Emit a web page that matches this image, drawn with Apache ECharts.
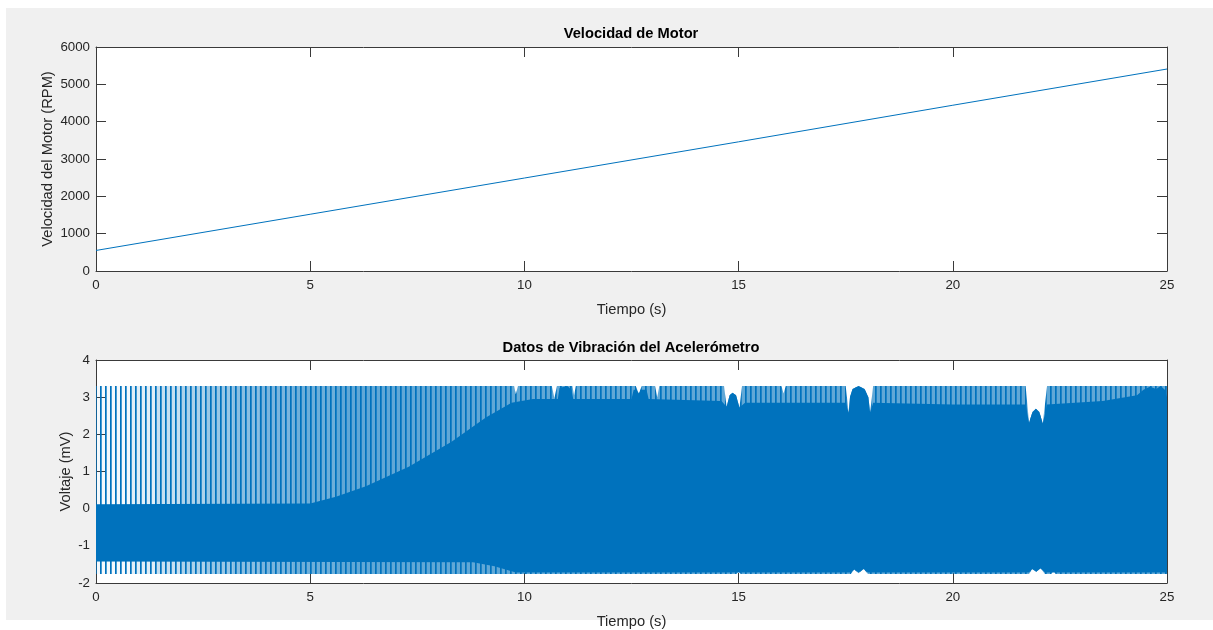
<!DOCTYPE html>
<html>
<head>
<meta charset="utf-8">
<script src="https://cdn.jsdelivr.net/npm/echarts@6/dist/echarts.min.js"></script>
<style>
  html, body { margin: 0; padding: 0; background: #ffffff; }
  #chart { width: 1213px; height: 630px; }
</style>
</head>
<body>
<div id="chart"></div>
<script>
// Motor speed (RPM) over time (s)
const speedTime = [0, 5, 10, 15, 20, 25];
const speedRpm = [550, 1520, 2490, 3460, 4440, 5410];

// Accelerometer vibration (mV): envelope of the oscillation, [t, v] pairs
// Outer swing reached by the individual cycles (upper edge)
const vibMax = [
  [0, 3.3], [9.76, 3.3], [9.8, 3.08], [9.85, 3.3],
  [10.64, 3.3], [10.7, 2.98], [10.76, 3.3],
  [11.12, 3.3], [11.16, 3.05], [11.2, 3.3],
  [12.6, 3.3], [12.67, 3.1], [12.74, 3.3],
  [13.05, 3.3], [13.1, 3.0], [13.15, 3.3],
  [14.66, 3.3], [14.72, 2.74], [14.79, 3.05], [14.86, 3.12], [14.94, 3.05], [15.02, 2.72], [15.08, 3.3],
  [16.0, 3.3], [16.05, 3.1], [16.1, 3.3],
  [17.5, 3.3], [17.57, 2.58], [17.6, 3.0], [17.66, 3.22], [17.8, 3.3], [17.94, 3.22], [18.03, 3.0], [18.07, 2.58], [18.14, 3.3],
  [21.7, 3.3], [21.78, 2.31], [21.86, 2.6], [21.94, 2.69], [22.02, 2.6], [22.1, 2.29], [22.2, 3.3],
  [25, 3.3]
];
// Outer swing (lower edge)
const vibMin = [
  [0, -1.76], [14.95, -1.76], [15.0, -1.7], [15.05, -1.76],
  [17.62, -1.76], [17.7, -1.64], [17.8, -1.74], [17.92, -1.62], [18.02, -1.76],
  [21.78, -1.76], [21.85, -1.62], [21.95, -1.7], [22.05, -1.6], [22.15, -1.76],
  [22.3, -1.76], [22.35, -1.68], [22.4, -1.76], [25, -1.76]
];
// Dense core of the signal (upper edge)
const vibCoreTop = [
  [0, 0.12], [5.0, 0.14], [5.6, 0.32], [6.3, 0.6], [7.3, 1.13], [8.3, 1.8], [9.1, 2.45], [9.7, 2.85], [10.2, 2.95],
  [10.78, 2.95], [10.82, 3.25], [11.0, 3.3], [11.1, 3.2], [11.14, 2.95],
  [12.5, 2.95], [12.55, 3.2], [12.62, 3.2], [12.67, 3.1], [12.72, 3.2], [12.85, 3.2], [12.9, 2.95],
  [14.6, 2.9], [14.72, 2.74], [14.79, 3.05], [14.86, 3.12], [14.94, 3.05], [15.02, 2.72], [15.15, 2.85],
  [17.5, 2.85], [17.57, 2.58], [17.6, 3.0], [17.66, 3.22], [17.8, 3.3], [17.94, 3.22], [18.03, 3.0], [18.07, 2.58], [18.14, 2.85],
  [20, 2.8], [21.7, 2.8], [21.78, 2.31], [21.86, 2.6], [21.94, 2.69], [22.02, 2.6], [22.1, 2.29], [22.2, 2.8],
  [23.5, 2.9], [24.3, 3.05], [24.45, 3.2], [24.6, 3.28], [24.75, 3.22], [24.85, 3.3], [24.95, 3.2], [25, 3.0]
];
// Dense core of the signal (lower edge)
const vibCoreBottom = [
  [0, -1.42], [8.8, -1.44], [9.3, -1.55], [9.8, -1.72],
  [17.62, -1.72], [17.7, -1.64], [17.8, -1.72], [17.92, -1.62], [18.02, -1.72],
  [21.78, -1.72], [21.85, -1.62], [21.95, -1.7], [22.05, -1.6], [22.15, -1.72], [25, -1.72]
];

const BLUE = '#0072BD';
const AXIS = '#3a3a3a';
const TEXT = '#262626';
const FONT = '"Liberation Sans", Arial, Helvetica, sans-serif';

// Shading of the gaps between cycles: [fromTime, toTime, opacity]
// (cycles get denser as the motor speeds up)
const gapShade = [
  [0, 0.8, 0.04], [0.8, 1.4, 0.12], [1.4, 2.0, 0.22], [2.0, 2.6, 0.32], [2.6, 3.2, 0.4],
  [3.2, 3.8, 0.46], [3.8, 4.6, 0.52], [4.6, 5.6, 0.57], [5.6, 25, 0.62]
];

// Column texture in chart pixel space: one dark cycle line every 5 px,
// gaps shaded according to gapShade
let texture = null;
function buildTexture(api, width) {
  const c = document.createElement('canvas');
  c.width = width; c.height = 2;
  const g = c.getContext('2d');
  gapShade.forEach(([t0, t1, a]) => {
    const x0 = Math.round(api.coord([t0, 0])[0]);
    const x1 = Math.round(api.coord([t1, 0])[0]);
    g.fillStyle = 'rgba(0,114,189,' + a + ')';
    g.fillRect(x0, 0, x1 - x0, 2);
  });
  for (let x = 0; x < width; x += 5) {
    g.fillStyle = 'rgba(0,114,189,1)'; g.fillRect(x, 0, 1, 2);
    g.fillStyle = 'rgba(0,114,189,0.7)'; g.fillRect(x + 1, 0, 1, 2);
  }
  return c;
}

function bandPoints(api, upper, lower) {
  const pts = [];
  upper.forEach(p => pts.push(api.coord(p)));
  for (let i = lower.length - 1; i >= 0; i--) pts.push(api.coord(lower[i]));
  return pts;
}

function renderVibration(params, api) {
  if (params.dataIndex > 0) return;
  if (!texture) texture = buildTexture(api, api.getWidth());
  return {
    type: 'group',
    children: [
      { type: 'polygon', shape: { points: bandPoints(api, vibMax, vibMin) },
        style: { fill: { image: texture, repeat: 'repeat-y' } } },
      { type: 'polygon', shape: { points: bandPoints(api, vibCoreTop, vibCoreBottom) },
        style: { fill: BLUE } }
    ]
  };
}

const plainNumber = v => String(v);

function xAxes(gridIndex) {
  const common = {
    gridIndex, type: 'value', min: 0, max: 25, interval: 5,
    axisLine: { show: true, onZero: false, lineStyle: { color: AXIS, width: 1 } },
    axisTick: { show: true, inside: true, length: 10, lineStyle: { color: AXIS } },
    splitLine: { show: false }
  };
  return [
    Object.assign({}, common, {
      position: 'bottom', name: 'Tiempo (s)', nameLocation: 'middle', nameGap: 31, nameMoveOverlap: false,
      nameTextStyle: { color: TEXT, fontFamily: FONT, fontSize: 14.7 },
      axisLabel: { color: TEXT, fontFamily: FONT, fontSize: 13.3, margin: 8, formatter: plainNumber }
    }),
    Object.assign({}, common, { position: 'top', axisLabel: { show: false } })
  ];
}

function yAxes(gridIndex, min, max, interval, name, nameGap) {
  const common = {
    gridIndex, type: 'value', min, max, interval,
    axisLine: { show: true, onZero: false, lineStyle: { color: AXIS, width: 1 } },
    axisTick: { show: true, inside: true, length: 10, lineStyle: { color: AXIS } },
    splitLine: { show: false }
  };
  return [
    Object.assign({}, common, {
      position: 'left', name, nameLocation: 'middle', nameGap, nameMoveOverlap: false,
      nameTextStyle: { color: TEXT, fontFamily: FONT, fontSize: 14.7 },
      axisLabel: { color: TEXT, fontFamily: FONT, fontSize: 13.3, margin: 6, formatter: plainNumber }
    }),
    Object.assign({}, common, { position: 'right', axisLabel: { show: false } })
  ];
}

const chart = echarts.init(document.getElementById('chart'), null, { renderer: 'canvas' });
chart.setOption({
  animation: false,
  backgroundColor: '#ffffff',
  graphic: [
    { type: 'rect', z: -10, shape: { x: 6, y: 8, width: 1207, height: 612 }, style: { fill: '#F0F0F0' } },
    { type: 'text', x: 631, y: 34, style: { text: 'Velocidad de Motor', textAlign: 'center', textVerticalAlign: 'middle', font: 'bold 14.7px ' + FONT, fill: '#000' } },
    { type: 'text', x: 631, y: 348, style: { text: 'Datos de Vibración del Acelerómetro', textAlign: 'center', textVerticalAlign: 'middle', font: 'bold 14.7px ' + FONT, fill: '#000' } }
  ],
  grid: [
    { left: 96, top: 47, width: 1071, height: 224, show: true, backgroundColor: '#ffffff', borderWidth: 0 },
    { left: 96, top: 360, width: 1071, height: 224, show: true, backgroundColor: '#ffffff', borderWidth: 0 }
  ],
  xAxis: [...xAxes(0), ...xAxes(1)],
  yAxis: [
    ...yAxes(0, 0, 6000, 1000, 'Velocidad del Motor (RPM)', 41),
    ...yAxes(1, -2, 4, 1, 'Voltaje (mV)', 23)
  ],
  series: [
    {
      type: 'line', xAxisIndex: 0, yAxisIndex: 0,
      data: speedTime.map((t, i) => [t, speedRpm[i]]),
      showSymbol: false, lineStyle: { color: BLUE, width: 1 }, itemStyle: { color: BLUE }
    },
    {
      type: 'custom', xAxisIndex: 2, yAxisIndex: 2, clip: true,
      data: [[0, 0]], renderItem: renderVibration
    }
  ]
});
</script>
</body>
</html>
